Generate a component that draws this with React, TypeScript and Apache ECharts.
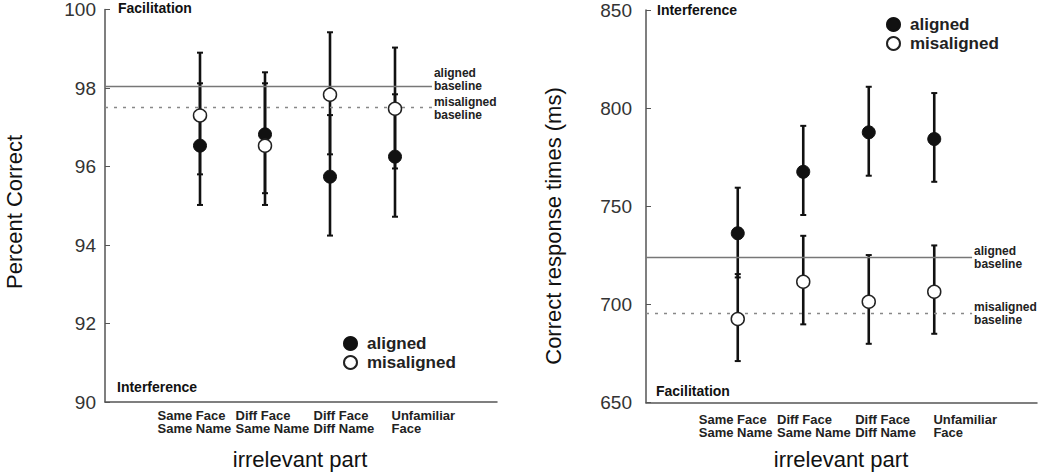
import React, { useEffect, useRef } from "react";
import * as echarts from "echarts";

const categories = ["Same Face\nSame Name", "Diff Face\nSame Name", "Diff Face\nDiff Name", "Unfamiliar\nFace"];

// Left panel: percent correct
const pcTicks = [90, 92, 94, 96, 98, 100];
const pcAligned = [96.53, 96.82, 95.74, 96.25];
const pcAlignedLow = [95.02, 95.32, 94.24, 94.72];
const pcAlignedHigh = [98.12, 98.4, 97.31, 97.84];
const pcMisaligned = [97.3, 96.53, 97.83, 97.47];
const pcMisalignedLow = [95.8, 95.02, 96.31, 95.95];
const pcMisalignedHigh = [98.9, 98.12, 99.42, 99.03];
const pcAlignedBaseline = 98.05;
const pcMisalignedBaseline = 97.52;

// Right panel: correct response times (ms)
const rtTicks = [650, 700, 750, 800, 850];
const rtAligned = [736.3, 767.6, 787.7, 784.3];
const rtAlignedLow = [713.8, 745.6, 765.6, 762.5];
const rtAlignedHigh = [759.5, 791.0, 810.9, 807.7];
const rtMisaligned = [692.6, 711.6, 701.4, 706.5];
const rtMisalignedLow = [671.2, 689.9, 680.0, 685.1];
const rtMisalignedHigh = [715.5, 735.0, 725.2, 730.1];
const rtAlignedBaseline = 724.0;
const rtMisalignedBaseline = 695.5;

const FONT = "'Liberation Sans', Arial, Helvetica, sans-serif";
const INK = "#111";
const AXIS = "#555";
const BASE_END = 0.834;

function errorSeries(xi: number, yi: number, low: number[], high: number[]) {
  return {
    type: "custom",
    xAxisIndex: xi,
    yAxisIndex: yi,
    clip: false,
    silent: true,
    z: 3,
    data: categories.map((_, i) => [i, low[i], high[i]]),
    renderItem: (params: any, api: any) => {
      const a = api.coord([api.value(0), api.value(1)]);
      const b = api.coord([api.value(0), api.value(2)]);
      const w = 3;
      const st = { stroke: INK, lineWidth: 2.6 };
      return {
        type: "group",
        children: [
          { type: "line", shape: { x1: a[0], y1: a[1], x2: b[0], y2: b[1] }, style: st },
          { type: "line", shape: { x1: a[0] - w, y1: a[1], x2: a[0] + w, y2: a[1] }, style: { stroke: INK, lineWidth: 2 } },
          { type: "line", shape: { x1: b[0] - w, y1: b[1], x2: b[0] + w, y2: b[1] }, style: { stroke: INK, lineWidth: 2 } },
        ],
      };
    },
  };
}

function pointSeries(name: string, xi: number, yi: number, values: number[], filled: boolean) {
  return {
    type: "scatter",
    name,
    xAxisIndex: xi,
    yAxisIndex: yi,
    symbol: "circle",
    symbolSize: 13,
    z: 5,
    silent: true,
    data: values,
    itemStyle: filled
      ? { color: INK, borderColor: INK, borderWidth: 1, opacity: 1 }
      : { color: "#fff", borderColor: "#222", borderWidth: 1.5, opacity: 1 },
  };
}

function baselineSeries(xi: number, yi: number, aligned: number, misaligned: number, offA: number[], offM: number[]) {
  const lbl = (txt: string, off: number[]) => ({
    show: true,
    position: "end",
    distance: 2,
    offset: off,
    formatter: txt,
    fontFamily: FONT,
    fontSize: 12,
    fontWeight: "bold",
    lineHeight: 13,
    color: "#222",
    align: "left",
  });
  return [
    {
      type: "line",
      name: "alignedBaseline",
      xAxisIndex: xi,
      yAxisIndex: yi,
      data: [],
      silent: true,
      markLine: {
        symbol: "none",
        silent: true,
        data: [[{ coord: [0, aligned] }, { coord: [BASE_END, aligned] }]],
        lineStyle: { color: "#777", width: 1.3, type: "solid" },
        label: lbl("aligned\nbaseline", offA),
      },
    },
    {
      type: "line",
      name: "misalignedBaseline",
      xAxisIndex: xi,
      yAxisIndex: yi,
      data: [],
      silent: true,
      markLine: {
        symbol: "none",
        silent: true,
        data: [[{ coord: [0, misaligned] }, { coord: [BASE_END, misaligned] }]],
        lineStyle: { color: "#888", width: 1.3, type: [3, 6] },
        label: lbl("misaligned\nbaseline", offM),
      },
    },
  ];
}

function frameAxes(gi: number, min: number, max: number, interval: number, labelMargin: number) {
  const x = {
    type: "value",
    gridIndex: gi,
    min: 0,
    max: 1,
    axisLine: { show: true, onZero: false, lineStyle: { color: AXIS, width: 1.5 } },
    axisTick: { show: false },
    axisLabel: { show: false },
    splitLine: { show: false },
  };
  const y = {
    type: "value",
    gridIndex: gi,
    min,
    max,
    interval,
    axisLine: { show: true, lineStyle: { color: AXIS, width: 1.5 } },
    axisTick: { show: true, inside: true, length: 5, lineStyle: { color: AXIS, width: 1 } },
    axisLabel: { show: true, margin: labelMargin, fontFamily: FONT, fontSize: 19, color: "#333" },
    splitLine: { show: false },
  };
  return { x, y };
}

function hiddenY(gi: number, min: number, max: number) {
  return { type: "value", gridIndex: gi, min, max, show: false };
}

function catAxis(gi: number, boundaryGap: boolean, showLabels: boolean, margin: number) {
  return {
    type: "category",
    gridIndex: gi,
    data: categories,
    boundaryGap,
    axisLine: { show: false },
    axisTick: { show: false },
    splitLine: { show: false },
    axisLabel: showLabels
      ? {
          show: true,
          interval: 0,
          align: "left",
          verticalAlign: "top",
          margin,
          fontFamily: FONT,
          fontSize: 13,
          fontWeight: "bold",
          lineHeight: 13,
          color: "#222",
        }
      : { show: false },
  };
}

export default function App() {
  const ref = useRef<HTMLDivElement>(null);
  useEffect(() => {
    if (!ref.current) return;
    const chart = echarts.init(ref.current, null, { renderer: "svg" });

    const L = { left: 105, top: 9.5, width: 392, height: 392.5 };
    const R = { left: 646, top: 10, width: 391, height: 392.7 };

    const lf = frameAxes(0, pcTicks[0], pcTicks[pcTicks.length - 1], pcTicks[1] - pcTicks[0], 9);
    const rf = frameAxes(3, rtTicks[0], rtTicks[rtTicks.length - 1], rtTicks[1] - rtTicks[0], 14);

    const bold = (text: string, x: number, y: number) => ({
      type: "text",
      x,
      y,
      style: { text, fontFamily: FONT, fontSize: 14, fontWeight: "bold", fill: "#111", verticalAlign: "middle", align: "left" },
    });
    const title = (text: string, x: number, y: number, rot: boolean, size: number) => ({
      type: "text",
      x,
      y,
      rotation: rot ? Math.PI / 2 : 0,
      style: { text, fontFamily: FONT, fontSize: size, fill: "#111", align: "center", verticalAlign: "middle" },
    });

    const legendCfg = (left: number, top: number) => ({
      show: true,
      orient: "vertical",
      left,
      top,
      itemWidth: 13,
      itemHeight: 13,
      itemGap: 2,
      icon: "circle",
      data: ["aligned", "misaligned"],
      selectedMode: false,
      textStyle: { fontFamily: FONT, fontSize: 17, fontWeight: "bold", color: "#222", padding: [0, 0, 0, 5] },
    });

    chart.setOption({
      animation: false,
      backgroundColor: "#fff",
      grid: [
        { ...L },
        { left: 167.5, top: L.top, width: 260, height: L.height },
        { left: 157.5, top: L.top, width: 234, height: L.height },
        { ...R },
        { left: 705, top: R.top, width: 262, height: R.height },
        { left: 698.8, top: R.top, width: 234.6, height: R.height },
      ],
      xAxis: [
        lf.x,
        catAxis(1, true, false, 0),
        catAxis(2, false, true, 7),
        rf.x,
        catAxis(4, true, false, 0),
        catAxis(5, false, true, 10),
      ],
      yAxis: [
        lf.y,
        hiddenY(1, 90, 100),
        hiddenY(2, 90, 100),
        rf.y,
        hiddenY(4, 650, 850),
        hiddenY(5, 650, 850),
      ],
      legend: [legendCfg(338, 330), legendCfg(881, 11)],
      graphic: [
        bold("Facilitation", 118, 8),
        bold("Interference", 117, 387),
        bold("Interference", 657, 10),
        bold("Facilitation", 656, 391),
        title("irrelevant part", 300, 459, false, 22),
        title("irrelevant part", 841, 459, false, 22),
        title("Percent Correct", 14, 212, true, 22),
        title("Correct response times (ms)", 553, 226, true, 22),
      ],
      series: [
        ...baselineSeries(0, 0, pcAlignedBaseline, pcMisalignedBaseline, [0, -7], [0, 2]),
        errorSeries(1, 1, pcAlignedLow, pcAlignedHigh),
        errorSeries(1, 1, pcMisalignedLow, pcMisalignedHigh),
        pointSeries("aligned", 1, 1, pcAligned, true),
        pointSeries("misaligned", 1, 1, pcMisaligned, false),
        ...baselineSeries(3, 3, rtAlignedBaseline, rtMisalignedBaseline, [0, 0], [0, 0]),
        errorSeries(4, 4, rtAlignedLow, rtAlignedHigh),
        errorSeries(4, 4, rtMisalignedLow, rtMisalignedHigh),
        pointSeries("aligned", 4, 4, rtAligned, true),
        pointSeries("misaligned", 4, 4, rtMisaligned, false),
      ],
    });
    return () => chart.dispose();
  }, []);
  return <div ref={ref} style={{ position: "fixed", left: 0, top: 0, width: 1050, height: 472, background: "#fff" }} />;
}
